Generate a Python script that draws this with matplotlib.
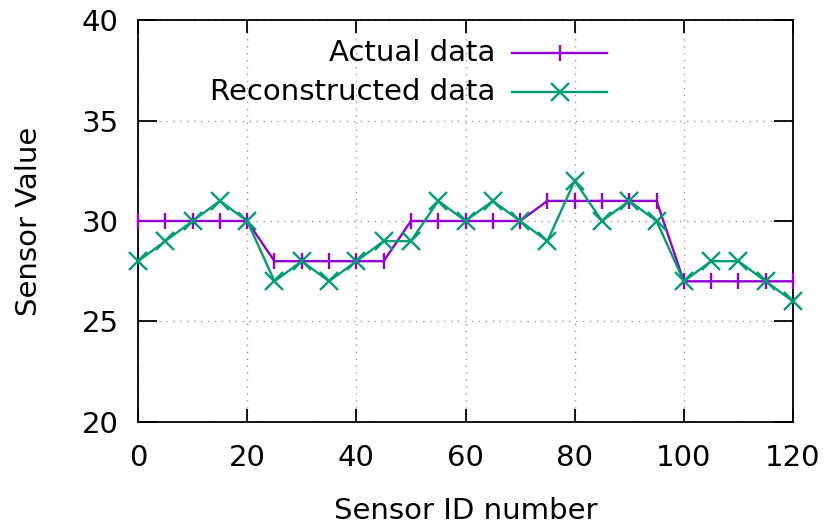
import matplotlib
matplotlib.use("Agg")
import matplotlib.pyplot as plt
from matplotlib.lines import Line2D

sensor_ids = list(range(0, 121, 5))
actual = [30, 30, 30, 30, 30, 28, 28, 28, 28, 28, 30, 30, 30, 30, 30,
          31, 31, 31, 31, 31, 27, 27, 27, 27, 27]
reconstructed = [28, 29, 30, 31, 30, 27, 28, 27, 28, 29, 29, 31, 30, 31, 30,
                 29, 32, 30, 31, 30, 27, 28, 28, 27, 26]
x_ticks = [0, 20, 40, 60, 80, 100, 120]
y_ticks = [20, 25, 30, 35, 40]

purple = "#9400d3"
green = "#009e73"
FS = 21

plt.rcParams['font.family'] = ['Verdana', 'DejaVu Sans']
fig = plt.figure(figsize=(8.27, 5.31), dpi=100)
ax = fig.add_axes([0.1669, 0.2053, 0.792, 0.757])

ax.plot(sensor_ids, actual, color=purple, lw=1.7, marker='|', ms=11, mew=1.7, clip_on=False, zorder=3)
ax.plot(sensor_ids, reconstructed, color=green, lw=1.7, marker='x', ms=13, mew=1.7, clip_on=False, zorder=4)

ax.set_xlim(0, 120)
ax.set_ylim(20, 40)
ax.set_xticks(x_ticks)
ax.set_yticks(y_ticks)
ax.tick_params(axis='x', direction='in', length=9.5, width=1.3, labelsize=FS, top=True, pad=16)
ax.tick_params(axis='y', direction='in', length=14, width=1.3, labelsize=FS, right=True, pad=14)
ax.grid(True, color='#999999', linestyle=(0, (1, 4)), lw=1)
for s in ax.spines.values():
    s.set_linewidth(1.3)

ax.set_xlabel("Sensor ID number", fontsize=FS, labelpad=18)
ax.set_ylabel("Sensor Value", fontsize=FS, labelpad=28)

# gnuplot-style legend: labels right aligned, sample on the right
labels = ["Actual data", "Reconstructed data"]
colors = [purple, green]
markers = ['|', 'x']
mss = [11, 13]
ys = [0.918, 0.821]
for lab, c, m, ms, yy in zip(labels, colors, markers, mss, ys):
    ax.text(0.545, yy, lab, transform=ax.transAxes, ha='right', va='center', fontsize=FS)
    ax.add_line(Line2D([0.571, 0.716], [yy, yy], transform=ax.transAxes, color=c, lw=1.7))
    ax.add_line(Line2D([0.644], [yy], transform=ax.transAxes, color=c, marker=m, ms=ms, mew=1.7, lw=0))

fig.savefig("out.png", dpi=100)
